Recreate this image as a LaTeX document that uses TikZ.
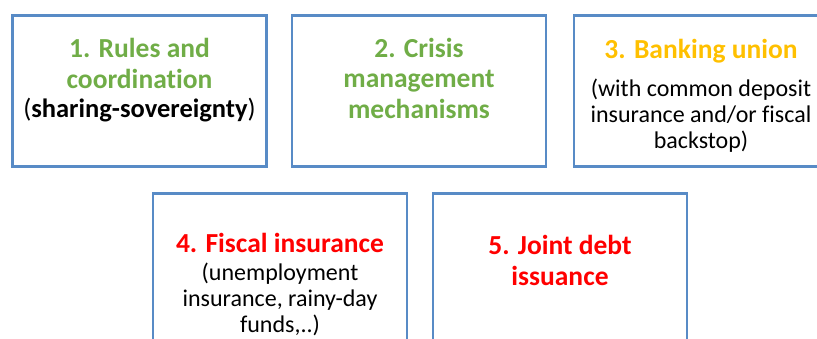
\documentclass[tikz,border=0pt]{standalone}
\usepackage{fontspec}
\setmainfont{Carlito}[RawFeature={-liga}]
\definecolor{boxblue}{RGB}{88,139,198}
\definecolor{stepgreen}{RGB}{112,173,71}
\definecolor{stepgold}{RGB}{255,192,0}
\definecolor{stepred}{RGB}{255,0,0}
\tikzset{
  pillar/.style={draw=boxblue, line width=2.4pt, rectangle,
    minimum width=254pt, minimum height=151pt, inner sep=0pt},
  % anchored at the baseline of the last line
  caption/.style={anchor=base, align=center, inner sep=0pt},
  headfont/.style={font=\fontsize{27.5}{30.5}\selectfont\bfseries},
  bodyfont/.style={font=\fontsize{24}{25.8}\selectfont},
}
\begin{document}
\begin{tikzpicture}[x=1pt,y=-1pt]
\useasboundingbox (0,0) rectangle (817,338);

% upper row
\node[pillar] (rules)   at (139.5,91) {};
\node[pillar] (crisis)  at (419,91) {};
\node[pillar] (banking) at (701,91) {};
% lower row
\node[pillar] (fiscal)  at (280,269) {};
\node[pillar] (debt)    at (560,269) {};

\node[caption, headfont, text=stepgreen] (rulesT) at (rules.center |- 0,88)
  {1. Rules and\\coordination};
\node[caption, font=\fontsize{26.5}{30}\selectfont] (rulesS) at (rules.center |- 0,117)
  {(\textbf{sharing-sovereignty})};

\node[caption, headfont, text=stepgreen] (crisisT) at (crisis.center |- 0,118)
  {2. Crisis\\management\\mechanisms};

\node[caption, headfont, text=stepgold] (bankingT) at (banking.center |- 0,58)
  {3. Banking union};
\node[caption, bodyfont] (bankingS) at (banking.center |- 0,148)
  {(with common deposit\\insurance and/or fiscal\\backstop)};

\node[caption, headfont, text=stepred] (fiscalT) at (fiscal.center |- 0,252)
  {4. Fiscal insurance};
\node[caption, bodyfont] (fiscalS) at (fiscal.center |- 0,332)
  {(unemployment\\insurance, rainy-day\\funds,..)};

\node[caption, headfont, text=stepred] (debtT) at (debt.center |- 0,285)
  {5. Joint debt\\issuance};
\end{tikzpicture}
\end{document}
